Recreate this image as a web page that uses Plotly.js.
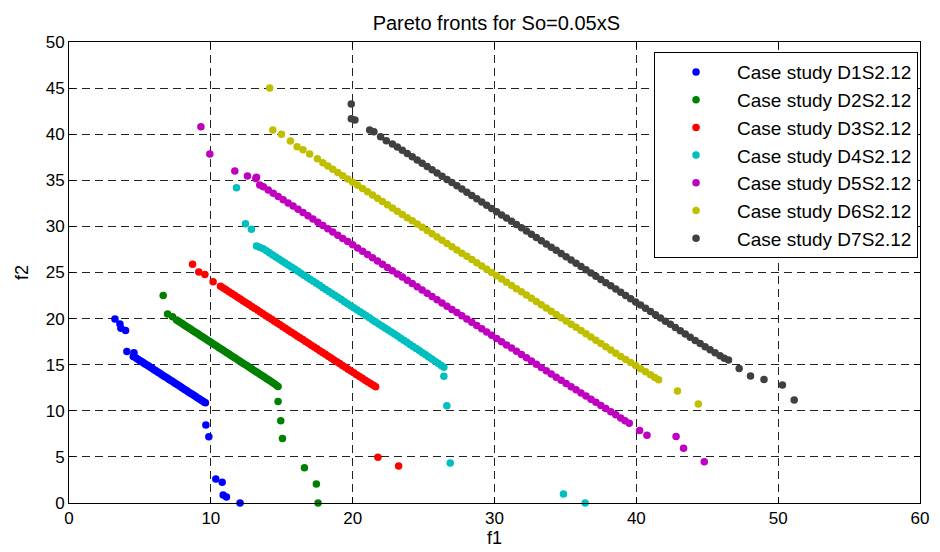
<!DOCTYPE html>
<html>
<head>
<meta charset="utf-8">
<script src="https://cdn.plot.ly/plotly-3.0.1.min.js"></script>
<style>html,body{margin:0;padding:0;background:#fff;}#chart{width:940px;height:552px;}</style>
</head>
<body>
<div id="chart"></div>
<script>
// Series names (legend labels)
const seriesNames = ["Case study D1S2.12","Case study D2S2.12","Case study D3S2.12","Case study D4S2.12","Case study D5S2.12","Case study D6S2.12","Case study D7S2.12"];

// Series points [f1, f2]
const d1 = [[3.24,19.96],[3.59,19.42],[3.66,18.95],[3.99,18.7],[4.08,16.42],[4.58,16.3],[4.53,15.9],[4.68,15.78],[4.8,15.65],[4.93,15.52],[5.05,15.41],[5.17,15.29],[5.29,15.17],[5.4,15.06],[5.52,14.94],[5.64,14.82],[5.76,14.7],[5.88,14.58],[6.0,14.46],[6.12,14.34],[6.25,14.21],[6.37,14.09],[6.5,13.96],[6.62,13.84],[6.74,13.72],[6.87,13.6],[7.0,13.47],[7.12,13.35],[7.25,13.22],[7.38,13.1],[7.5,12.97],[7.63,12.84],[7.77,12.71],[7.9,12.58],[8.02,12.45],[8.15,12.32],[8.28,12.2],[8.4,12.07],[8.53,11.94],[8.66,11.81],[8.8,11.68],[8.93,11.55],[9.05,11.42],[9.18,11.3],[9.3,11.17],[9.42,11.06],[9.52,10.96],[9.62,10.88],[9.65,8.46],[9.86,7.19],[10.35,2.6],[10.8,2.24],[10.87,0.87],[11.1,0.65],[12.06,0]];

const d2 = [[6.64,22.5],[6.95,20.5],[7.3,20.2],[7.58,19.85],[7.72,19.7],[7.86,19.57],[8.0,19.43],[8.14,19.29],[8.28,19.15],[8.42,19.0],[8.57,18.86],[8.71,18.72],[8.85,18.57],[9.0,18.43],[9.14,18.29],[9.28,18.14],[9.43,18.0],[9.57,17.86],[9.72,17.71],[9.86,17.57],[10.0,17.43],[10.15,17.28],[10.29,17.14],[10.44,16.99],[10.58,16.85],[10.73,16.7],[10.87,16.56],[11.02,16.41],[11.16,16.27],[11.31,16.12],[11.45,15.98],[11.6,15.83],[11.74,15.69],[11.89,15.54],[12.03,15.4],[12.18,15.25],[12.32,15.11],[12.47,14.96],[12.61,14.82],[12.76,14.67],[12.9,14.53],[13.05,14.38],[13.19,14.24],[13.34,14.09],[13.48,13.95],[13.63,13.8],[13.77,13.66],[13.92,13.51],[14.06,13.37],[14.2,13.22],[14.35,13.07],[14.48,12.93],[14.62,12.78],[14.74,12.64],[14.74,11.0],[14.93,8.93],[15.05,7.0],[16.6,3.83],[17.44,2.06],[17.56,0]];

const d3 = [[8.71,25.9],[9.15,25.05],[9.58,24.77],[10.16,24.0],[10.68,23.5],[10.88,23.31],[11.08,23.12],[11.28,22.92],[11.48,22.72],[11.68,22.52],[11.88,22.32],[12.08,22.12],[12.28,21.92],[12.48,21.72],[12.68,21.52],[12.88,21.32],[13.08,21.12],[13.28,20.92],[13.48,20.72],[13.68,20.52],[13.88,20.32],[14.08,20.12],[14.28,19.92],[14.48,19.72],[14.68,19.52],[14.88,19.32],[15.08,19.12],[15.28,18.92],[15.48,18.72],[15.68,18.52],[15.88,18.32],[16.08,18.12],[16.28,17.92],[16.48,17.72],[16.68,17.52],[16.88,17.32],[17.08,17.12],[17.28,16.92],[17.48,16.72],[17.68,16.52],[17.88,16.32],[18.08,16.12],[18.28,15.92],[18.48,15.72],[18.68,15.52],[18.88,15.32],[19.08,15.12],[19.28,14.92],[19.48,14.72],[19.68,14.52],[19.88,14.32],[20.08,14.12],[20.28,13.92],[20.48,13.72],[20.68,13.52],[20.88,13.32],[21.08,13.12],[21.28,12.93],[21.46,12.76],[21.62,12.62],[21.78,4.96],[23.24,4.01]];

const d4 = [[11.81,34.2],[12.44,30.3],[12.86,29.68],[13.22,27.87],[13.45,27.75],[13.69,27.58],[13.92,27.35],[14.14,27.13],[14.36,26.91],[14.58,26.69],[14.8,26.47],[15.02,26.25],[15.24,26.03],[15.46,25.81],[15.68,25.59],[15.9,25.37],[16.12,25.15],[16.34,24.93],[16.56,24.71],[16.78,24.49],[17.0,24.27],[17.22,24.05],[17.44,23.83],[17.66,23.61],[17.88,23.38],[18.1,23.16],[18.32,22.94],[18.54,22.72],[18.76,22.5],[18.98,22.28],[19.2,22.06],[19.42,21.84],[19.64,21.62],[19.86,21.4],[20.08,21.18],[20.3,20.96],[20.52,20.74],[20.74,20.52],[20.96,20.3],[21.18,20.08],[21.4,19.86],[21.62,19.64],[21.84,19.42],[22.06,19.2],[22.28,18.98],[22.5,18.76],[22.72,18.54],[22.94,18.32],[23.16,18.1],[23.38,17.88],[23.6,17.66],[23.82,17.43],[24.04,17.2],[24.26,16.98],[24.48,16.76],[24.7,16.53],[24.92,16.3],[25.14,16.07],[25.36,15.84],[25.58,15.61],[25.8,15.38],[26.02,15.15],[26.24,14.92],[26.43,14.72],[26.43,13.74],[26.64,10.56],[26.88,4.34],[34.86,0.98],[36.39,0]];

const d5 = [[9.3,40.8],[9.93,37.85],[11.69,36.0],[12.58,35.47],[13.22,35.32],[13.17,35.2],[13.45,34.5],[13.7,34.3],[14.05,33.95],[14.4,33.6],[14.75,33.25],[15.1,32.9],[15.45,32.55],[15.8,32.2],[16.15,31.85],[16.5,31.5],[16.85,31.15],[17.2,30.8],[17.55,30.45],[17.9,30.1],[18.25,29.75],[18.6,29.4],[18.95,29.05],[19.3,28.7],[19.65,28.35],[20.0,28.0],[20.35,27.65],[20.7,27.3],[21.05,26.95],[21.4,26.6],[21.75,26.25],[22.1,25.9],[22.45,25.55],[22.8,25.2],[23.15,24.85],[23.5,24.5],[23.85,24.15],[24.2,23.8],[24.55,23.45],[24.9,23.1],[25.25,22.75],[25.6,22.4],[25.95,22.05],[26.3,21.7],[26.65,21.35],[27.0,21.0],[27.35,20.65],[27.7,20.3],[28.05,19.95],[28.4,19.6],[28.75,19.25],[29.1,18.9],[29.45,18.55],[29.8,18.2],[30.15,17.85],[30.5,17.5],[30.85,17.15],[31.2,16.8],[31.55,16.45],[31.9,16.1],[32.25,15.75],[32.6,15.4],[32.95,15.05],[33.3,14.7],[33.65,14.35],[34.0,14.0],[34.35,13.65],[34.7,13.3],[35.05,12.95],[35.4,12.6],[35.75,12.27],[36.1,11.93],[36.45,11.6],[36.8,11.26],[37.15,10.92],[37.5,10.58],[37.85,10.24],[38.2,9.9],[38.55,9.56],[38.9,9.22],[39.2,8.93],[39.5,8.64],[40.23,7.85],[40.75,7.34],[42.8,7.2],[43.33,5.93],[44.79,4.48]];

const d6 = [[14.15,45.0],[14.37,40.45],[14.98,40.0],[15.61,39.26],[16.08,38.65],[16.5,38.3],[16.97,37.85],[17.51,37.34],[17.9,36.9],[18.25,36.55],[18.6,36.2],[18.95,35.85],[19.3,35.5],[19.65,35.15],[20.0,34.8],[20.35,34.45],[20.7,34.1],[21.05,33.75],[21.4,33.4],[21.75,33.05],[22.1,32.7],[22.45,32.35],[22.8,32.0],[23.15,31.65],[23.5,31.3],[23.85,30.95],[24.2,30.6],[24.55,30.25],[24.9,29.9],[25.25,29.55],[25.6,29.2],[25.95,28.85],[26.3,28.5],[26.65,28.15],[27.0,27.8],[27.35,27.45],[27.7,27.1],[28.05,26.75],[28.4,26.4],[28.75,26.05],[29.1,25.7],[29.45,25.35],[29.8,25.0],[30.15,24.65],[30.5,24.3],[30.85,23.95],[31.2,23.6],[31.55,23.25],[31.9,22.9],[32.25,22.55],[32.6,22.2],[32.95,21.85],[33.3,21.5],[33.65,21.15],[34.0,20.8],[34.35,20.45],[34.7,20.1],[35.05,19.75],[35.4,19.4],[35.75,19.05],[36.1,18.7],[36.45,18.35],[36.8,18.0],[37.15,17.65],[37.5,17.3],[37.85,16.95],[38.2,16.6],[38.55,16.25],[38.9,15.9],[39.25,15.57],[39.6,15.24],[39.95,14.9],[40.3,14.57],[40.65,14.23],[41.0,13.9],[41.3,13.62],[41.57,13.38],[42.9,12.15],[44.37,10.74]];

const d7 = [[19.9,43.28],[19.9,41.68],[20.16,41.54],[21.2,40.45],[21.5,40.27],[21.97,39.73],[22.37,39.3],[22.8,38.95],[23.15,38.6],[23.5,38.25],[23.85,37.9],[24.2,37.55],[24.55,37.2],[24.9,36.85],[25.25,36.5],[25.6,36.15],[25.95,35.8],[26.3,35.45],[26.65,35.1],[27.0,34.75],[27.35,34.4],[27.7,34.05],[28.05,33.7],[28.4,33.35],[28.75,33.0],[29.1,32.65],[29.45,32.3],[29.8,31.95],[30.15,31.6],[30.5,31.25],[30.85,30.9],[31.2,30.55],[31.55,30.2],[31.9,29.85],[32.25,29.5],[32.6,29.15],[32.95,28.8],[33.3,28.45],[33.65,28.1],[34.0,27.75],[34.35,27.4],[34.7,27.05],[35.05,26.7],[35.4,26.35],[35.75,26.0],[36.1,25.65],[36.45,25.3],[36.8,24.95],[37.15,24.6],[37.5,24.25],[37.85,23.9],[38.2,23.55],[38.55,23.2],[38.9,22.85],[39.25,22.5],[39.6,22.15],[39.95,21.8],[40.3,21.47],[40.65,21.12],[41.0,20.77],[41.35,20.42],[41.7,20.07],[42.05,19.72],[42.4,19.38],[42.75,19.03],[43.1,18.68],[43.45,18.33],[43.8,17.98],[44.15,17.63],[44.5,17.3],[44.85,16.95],[45.2,16.62],[45.55,16.3],[45.9,15.97],[46.2,15.7],[46.5,15.5],[47.25,14.6],[48.05,13.77],[49.0,13.4],[50.3,12.8],[51.13,11.17]];

const allSeries = [d1, d2, d3, d4, d5, d6, d7];
const colors = ["#0000ff","#008000","#ff0000","#00bfbf","#bf00bf","#bfbf00","#404040"];

const FONT = "Liberation Sans, Arial, sans-serif";

const traces = allSeries.map((s, i) => ({
  type: "scatter",
  mode: "markers",
  name: seriesNames[i],
  legendgroup: "g" + i,
  x: s.map(p => p[0]),
  y: s.map(p => p[1]),
  cliponaxis: false,
  marker: {color: colors[i], size: 7.5, line: {width: 0}}
}));

const axisCommon = {
  showline: true, linecolor: "#000", linewidth: 1, mirror: "ticks",
  ticks: "inside", ticklen: 6, tickcolor: "#000", tickwidth: 1,
  showgrid: true, gridcolor: "#222", gridwidth: 1, griddash: "8px,5px",
  zeroline: false, automargin: false,
  tickfont: {family: FONT, size: 17, color: "#000"}
};

const layout = {
  width: 940, height: 552,
  margin: {l: 69, r: 20, t: 42, b: 49},
  paper_bgcolor: "#fff", plot_bgcolor: "#fff",
  title: {text: "Pareto fronts for So=0.05xS", font: {family: FONT, size: 20, color: "#000"},
          x: 0.528, xanchor: "center", y: 0.958, yanchor: "middle"},
  xaxis: Object.assign({}, axisCommon, {range: [0, 60], dtick: 10, tick0: 0,
          title: {text: "f1", font: {family: FONT, size: 18, color: "#000"}, standoff: 3}}),
  yaxis: Object.assign({}, axisCommon, {range: [0, 50], dtick: 5, tick0: 0,
          title: {text: "f2", font: {family: FONT, size: 18, color: "#000"}, standoff: 12}}),
  showlegend: true,
  legend: {x: 0.9977, xanchor: "right", y: 0.978, yanchor: "top",
           bgcolor: "#fff", bordercolor: "#000", borderwidth: 1,
           font: {family: FONT, size: 19, color: "#000"},
           itemwidth: 72, tracegroupgap: 3.3, traceorder: "normal"}
};

Plotly.newPlot("chart", traces, layout, {displayModeBar: false, staticPlot: true});
</script>
</body>
</html>
